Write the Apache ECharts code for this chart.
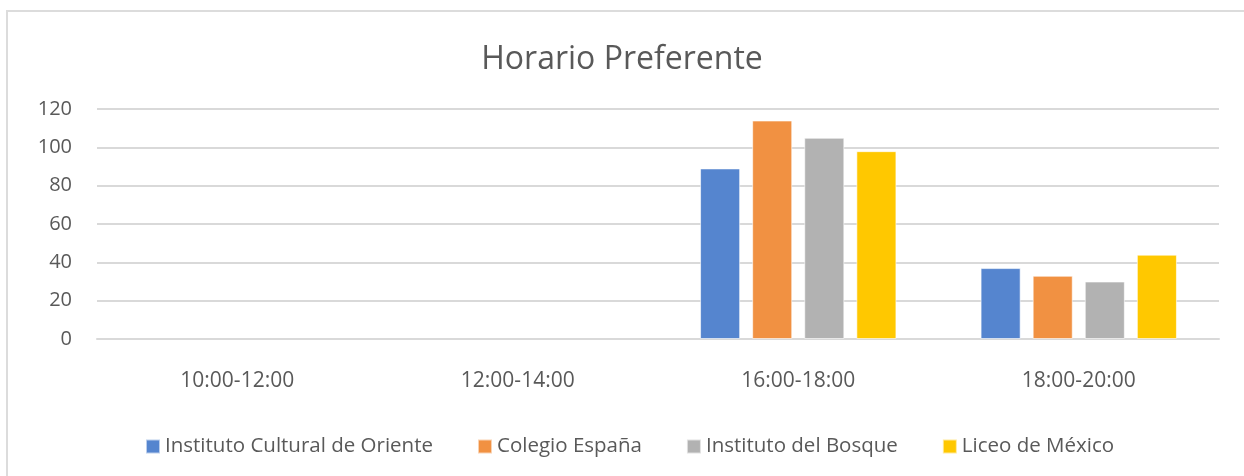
<!DOCTYPE html>
<html>
<head>
<meta charset="utf-8">
<title>Horario Preferente</title>
<script src="https://cdn.jsdelivr.net/npm/echarts@6/dist/echarts.min.js"></script>
<style>
  html, body { margin: 0; padding: 0; background: #fff; }
  #chart { width: 1244px; height: 476px; }
</style>
</head>
<body>
<div id="chart"></div>
<script>
  // datos
  var horarios = ['10:00-12:00', '12:00-14:00', '16:00-18:00', '18:00-20:00'];
  var escuelas = ['Instituto Cultural de Oriente', 'Colegio España', 'Instituto del Bosque', 'Liceo de México'];
  var culturalOriente = [null, null, 89, 37];
  var colegioEspana = [null, null, 114, 33];
  var institutoBosque = [null, null, 105, 30];
  var liceoMexico = [null, null, 98, 44];
  var valores = [culturalOriente, colegioEspana, institutoBosque, liceoMexico];
  var colores = ['#5585CF', '#F19142', '#B2B2B2', '#FFC800'];

  var myChart = echarts.init(document.getElementById('chart'));
  var fuente = 'Open Sans';

  var series = escuelas.map(function (nombre, i) {
    return {
      name: nombre,
      type: 'bar',
      data: valores[i],
      barGap: '30%',
      barCategoryGap: '30%',
      itemStyle: { color: colores[i], borderColor: 'rgba(255,255,255,0.6)', borderWidth: 1 }
    };
  });

  var option = {
    backgroundColor: '#fff',
    animation: false,
    color: colores,
    // marco del grafico
    graphic: [{
      type: 'rect',
      shape: { x: 7, y: 11, width: 1400, height: 600 },
      style: { fill: 'none', stroke: '#dcdcdc', lineWidth: 2 },
      silent: true
    }],
    title: {
      text: 'Horario Preferente',
      left: 'center',
      top: 39,
      textStyle: { fontFamily: fuente, fontSize: 32, fontWeight: 'normal', color: '#595959' }
    },
    legend: {
      data: escuelas,
      bottom: 14,
      left: 140,
      icon: 'rect',
      itemWidth: 14,
      itemHeight: 14,
      itemGap: 44,
      textStyle: { fontFamily: fuente, fontSize: 20.5, color: '#595959' }
    },
    grid: { left: 97, right: 25, top: 109, bottom: 137, containLabel: false },
    xAxis: {
      type: 'category',
      data: horarios,
      axisLine: { lineStyle: { color: '#d9d9d9', width: 2 } },
      axisTick: { show: false },
      axisLabel: { fontFamily: fuente, fontSize: 21, color: '#595959', margin: 32 }
    },
    yAxis: {
      type: 'value',
      min: 0,
      max: 120,
      interval: 20,
      axisLine: { show: false },
      axisTick: { show: false },
      splitLine: { lineStyle: { color: '#d9d9d9', width: 2 } },
      axisLabel: { fontFamily: fuente, fontSize: 20, color: '#595959', margin: 25 }
    },
    series: series
  };
  myChart.setOption(option);
</script>
</body>
</html>
